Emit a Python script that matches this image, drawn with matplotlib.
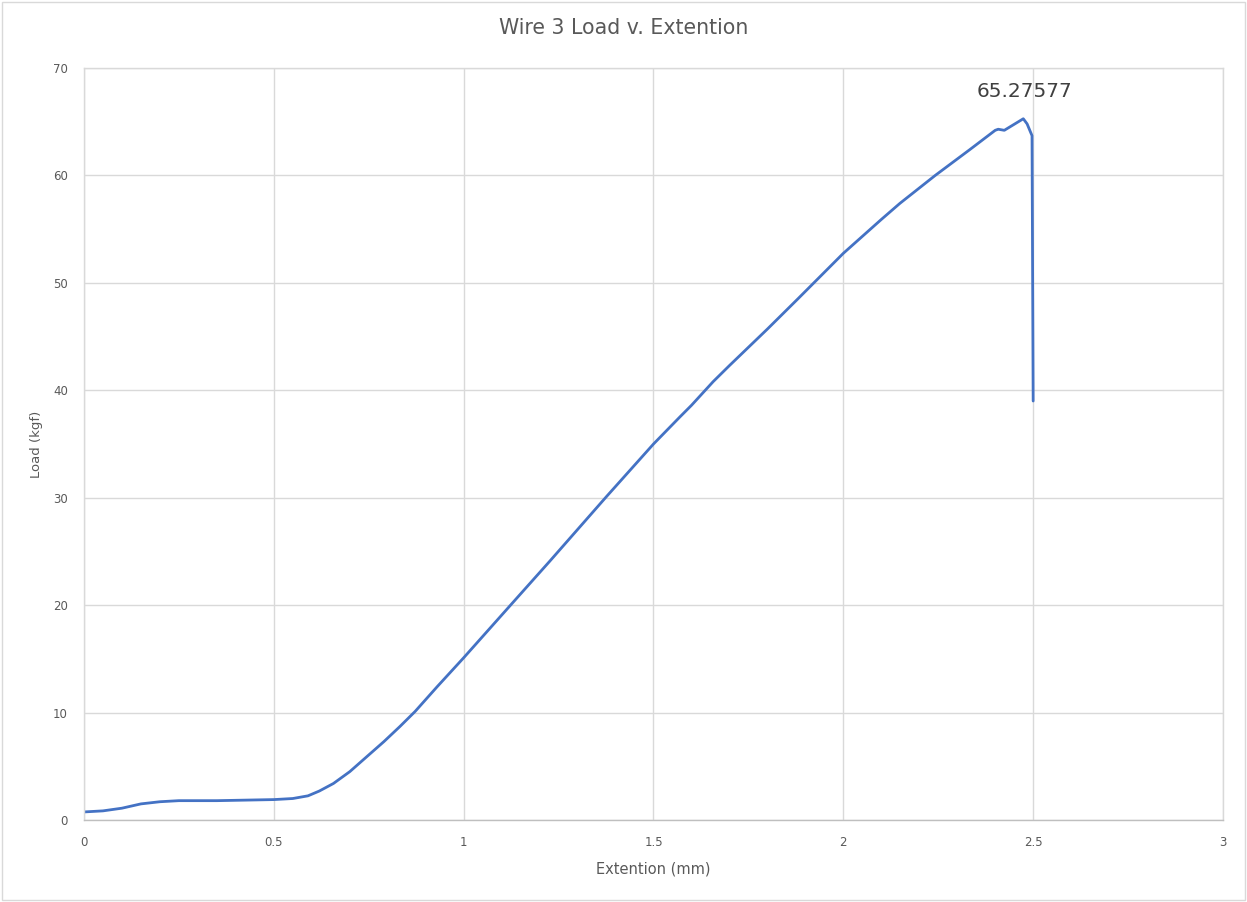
import matplotlib
matplotlib.use("Agg")
import matplotlib.pyplot as plt
from matplotlib.patches import Rectangle

extension = [0, 0.05, 0.1, 0.15, 0.2, 0.25, 0.35, 0.5, 0.55, 0.59, 0.62, 0.657, 0.7, 0.745,
             0.79, 0.832, 0.872, 0.93, 1.0, 1.126, 1.227, 1.376, 1.5, 1.569, 1.6, 1.657,
             1.7, 1.8, 1.88, 2.0, 2.1, 2.149, 2.242, 2.333, 2.4, 2.408, 2.424, 2.474,
             2.484, 2.497, 2.5]
load = [0.75, 0.85, 1.1, 1.5, 1.7, 1.8, 1.8, 1.9, 2.0, 2.25, 2.7, 3.4, 4.5, 5.9,
        7.3, 8.7, 10.1, 12.4, 15.1, 20.1, 24.1, 30.1, 35.0, 37.5, 38.6, 40.8,
        42.3, 45.7, 48.5, 52.75, 55.9, 57.4, 60.0, 62.4, 64.2, 64.3, 64.2, 65.27577,
        64.8, 63.7, 39.0]
peak_label = "65.27577"
x_ticks = [0, 0.5, 1, 1.5, 2, 2.5, 3]
x_tick_labels = ["0", "0.5", "1", "1.5", "2", "2.5", "3"]
y_ticks = [0, 10, 20, 30, 40, 50, 60, 70]

fig = plt.figure(figsize=(12.47, 9.02), dpi=100)
ax = fig.add_axes([84/1247, 1-820/902, (1223-84)/1247, (820-68)/902])

ax.plot(extension, load, color="#4472C4", linewidth=2.0, solid_joinstyle="round",
        solid_capstyle="round")
ax.set_xlim(0, 3)
ax.set_ylim(0, 70)
ax.set_xticks(x_ticks)
ax.set_xticklabels(x_tick_labels)
ax.set_yticks(y_ticks)
ax.grid(True, color="#D9D9D9", linewidth=1.0)
ax.set_axisbelow(True)
for s in ax.spines.values():
    s.set_color("#D9D9D9")
    s.set_linewidth(1.0)
ax.spines["bottom"].set_color("#BFBFBF")
ax.tick_params(axis="both", length=0, labelsize=8.5, colors="#595959", pad=11.5)

ax.set_xlabel("Extention (mm)", fontsize=10.5, color="#595959", labelpad=9)
ax.set_ylabel("Load (kgf)", fontsize=9.5, color="#595959", labelpad=7)
fig.text(0.5, 1-28/902, "Wire 3 Load v. Extention", ha="center", va="center",
         fontsize=14.8, color="#595959")

ax.text(2.476, 67.8, peak_label, ha="center", va="center", fontsize=14.5, color="#404040")

fig.patches.append(Rectangle((0.002, 0.002), 0.996, 0.996, transform=fig.transFigure,
                             fill=False, edgecolor="#D9D9D9", linewidth=1.0))

fig.savefig("out.png", dpi=100)
